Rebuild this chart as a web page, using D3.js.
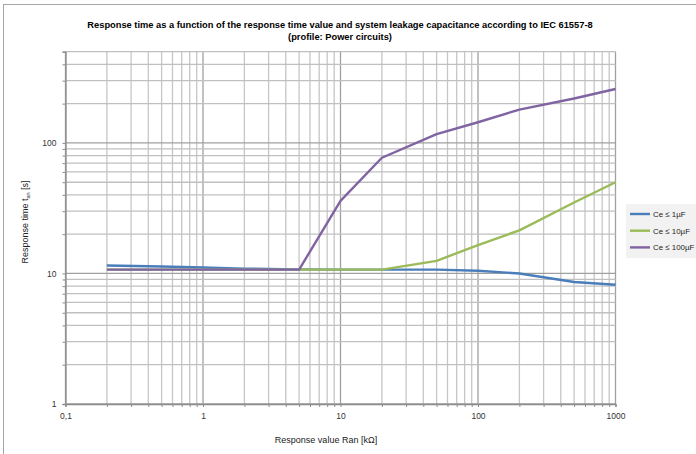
<!DOCTYPE html>
<html><head><meta charset="utf-8">
<script src="https://cdn.jsdelivr.net/npm/d3@7"></script>
<style>
html,body{margin:0;padding:0;background:#fff;}
svg{display:block;font-family:"Liberation Sans",Arial,sans-serif;}
</style></head>
<body>
<svg id="chart" width="696" height="454"></svg>
<script>
const titleLines = ["Response time as a function of the response time value and system leakage capacitance according to IEC 61557-8", "(profile: Power circuits)"];
const xTickValues = [0.1, 1, 10, 100, 1000];
const xTickLabels = ["0,1", "1", "10", "100", "1000"];
const yTickValues = [1, 10, 100];
const yTickLabels = ["1", "10", "100"];
const xValues = [0.2, 0.5, 1, 2, 5, 10, 20, 50, 100, 200, 500, 1000];
const seriesNames = ["Ce \u2264 1\u00b5F", "Ce \u2264 10\u00b5F", "Ce \u2264 100\u00b5F"];
const ce1 = [11.5, 11.3, 11.1, 10.9, 10.75, 10.7, 10.7, 10.7, 10.5, 10.0, 8.6, 8.2];
const ce10 = [10.7, 10.7, 10.7, 10.7, 10.7, 10.7, 10.7, 12.5, 16.5, 21.4, 35, 50];
const ce100 = [10.7, 10.7, 10.7, 10.7, 10.7, 36, 77, 117, 144, 180, 219, 259];
const seriesColors = ["#4a7ebb", "#9bbb59", "#8064a2"];

const svg = d3.select("#chart");
const W = 696, H = 454;
const plot = {left: 65.5, right: 615.5, top: 51.7, bottom: 404};

// outer chart border
svg.append("rect").attr("x", 3.5).attr("y", 4.5).attr("width", W + 10).attr("height", H + 10)
  .attr("fill", "#fff").attr("stroke", "#a6a6a6").attr("stroke-width", 1);

const x = d3.scaleLog().domain([0.1, 1000]).range([plot.left, plot.right]);
const y = d3.scaleLog().domain([1, 500]).range([plot.bottom, plot.top]);

const xAll = [];
for (let d = 0.1; d < 1000; d *= 10) for (let k = 1; k <= 9; k++) xAll.push(+(d * k).toPrecision(3));
xAll.push(1000);
const yAll = [];
for (let d = 1; d < 1000; d *= 10) for (let k = 1; k <= 9; k++) { const v = d * k; if (v <= 500) yAll.push(v); }

const isMajor = v => Math.abs(Math.log10(v) - Math.round(Math.log10(v))) < 1e-9;

const grid = svg.append("g");
grid.selectAll("line.vx").data(xAll).join("line")
  .attr("x1", d => x(d)).attr("x2", d => x(d)).attr("y1", plot.top).attr("y2", plot.bottom)
  .attr("stroke", d => isMajor(d) ? "#a0a0a0" : "#c6c6c6").attr("stroke-width", 1.3);
grid.selectAll("line.hy").data(yAll).join("line")
  .attr("x1", plot.left).attr("x2", plot.right).attr("y1", d => y(d)).attr("y2", d => y(d))
  .attr("stroke", d => isMajor(d) ? "#a0a0a0" : "#c0c0c0").attr("stroke-width", 1.3);

// axes
const xAxis = d3.axisBottom(x).tickValues(xAll).tickSize(3).tickFormat("");
const gx = svg.append("g").attr("transform", `translate(0,${plot.bottom})`).call(xAxis);
gx.select(".domain").attr("stroke", "#8c8c8c").attr("stroke-width", 1.3);
gx.selectAll(".tick line").attr("stroke", "#8c8c8c");
const xLab = d3.axisBottom(x).tickValues(xTickValues).tickSize(0).tickPadding(9)
  .tickFormat((d, i) => xTickLabels[i]);
const gxl = svg.append("g").attr("transform", `translate(0,${plot.bottom})`).call(xLab);
gxl.select(".domain").remove();
gxl.selectAll("text").attr("font-size", "8.5px").attr("fill", "#333").attr("font-family", "Liberation Sans, Arial, sans-serif");

const yAxis = d3.axisLeft(y).tickValues(yAll).tickSize(3).tickFormat("");
const gy = svg.append("g").attr("transform", `translate(${plot.left},0)`).call(yAxis);
gy.select(".domain").attr("stroke", "#8c8c8c").attr("stroke-width", 1.3);
gy.selectAll(".tick line").attr("stroke", "#8c8c8c");
const yLab = d3.axisLeft(y).tickValues(yTickValues).tickSize(0).tickPadding(9)
  .tickFormat((d, i) => yTickLabels[i]);
const gyl = svg.append("g").attr("transform", `translate(${plot.left},0)`).call(yLab);
gyl.select(".domain").remove();
gyl.selectAll("text").attr("font-size", "8.5px").attr("fill", "#333").attr("font-family", "Liberation Sans, Arial, sans-serif");

// series
const line = d3.line().x(d => x(d[0])).y(d => y(d[1]));
[ce1, ce10, ce100].forEach((vals, i) => {
  svg.append("path").datum(xValues.map((xv, j) => [xv, vals[j]]))
    .attr("d", line).attr("fill", "none").attr("stroke", seriesColors[i])
    .attr("stroke-width", 2.4).attr("stroke-linejoin", "round");
});

// title
const t = svg.append("text").attr("text-anchor", "middle").attr("font-weight", "bold")
  .attr("font-size", "9.3px").attr("fill", "#000");
titleLines.forEach((s, i) => t.append("tspan").attr("x", 340).attr("y", 28 + i * 12).text(s));

// axis titles
svg.append("text").attr("x", 326).attr("y", 443).attr("text-anchor", "middle")
  .attr("font-size", "9px").attr("fill", "#222").text("Response value Ran [k\u03a9]");
const yt = svg.append("text").attr("transform", "translate(28,222) rotate(-90)")
  .attr("text-anchor", "middle").attr("font-size", "9px").attr("fill", "#222");
yt.append("tspan").text("Response time t");
yt.append("tspan").attr("font-size", "5.5px").attr("dy", "2").text("an");
yt.append("tspan").attr("dy", "-2").text(" [s]");

// legend
const lg = svg.append("g");
lg.append("rect").attr("x", 626).attr("y", 204).attr("width", 80).attr("height", 54).attr("fill", "#f2f2f2");
seriesNames.forEach((n, i) => {
  const yy = 214 + i * 16.7;
  lg.append("line").attr("x1", 630).attr("x2", 650).attr("y1", yy).attr("y2", yy)
    .attr("stroke", seriesColors[i]).attr("stroke-width", 2.4);
  lg.append("text").attr("x", 653).attr("y", yy + 3).attr("font-size", "7.9px").attr("fill", "#222").text(n);
});
</script>
</body></html>
